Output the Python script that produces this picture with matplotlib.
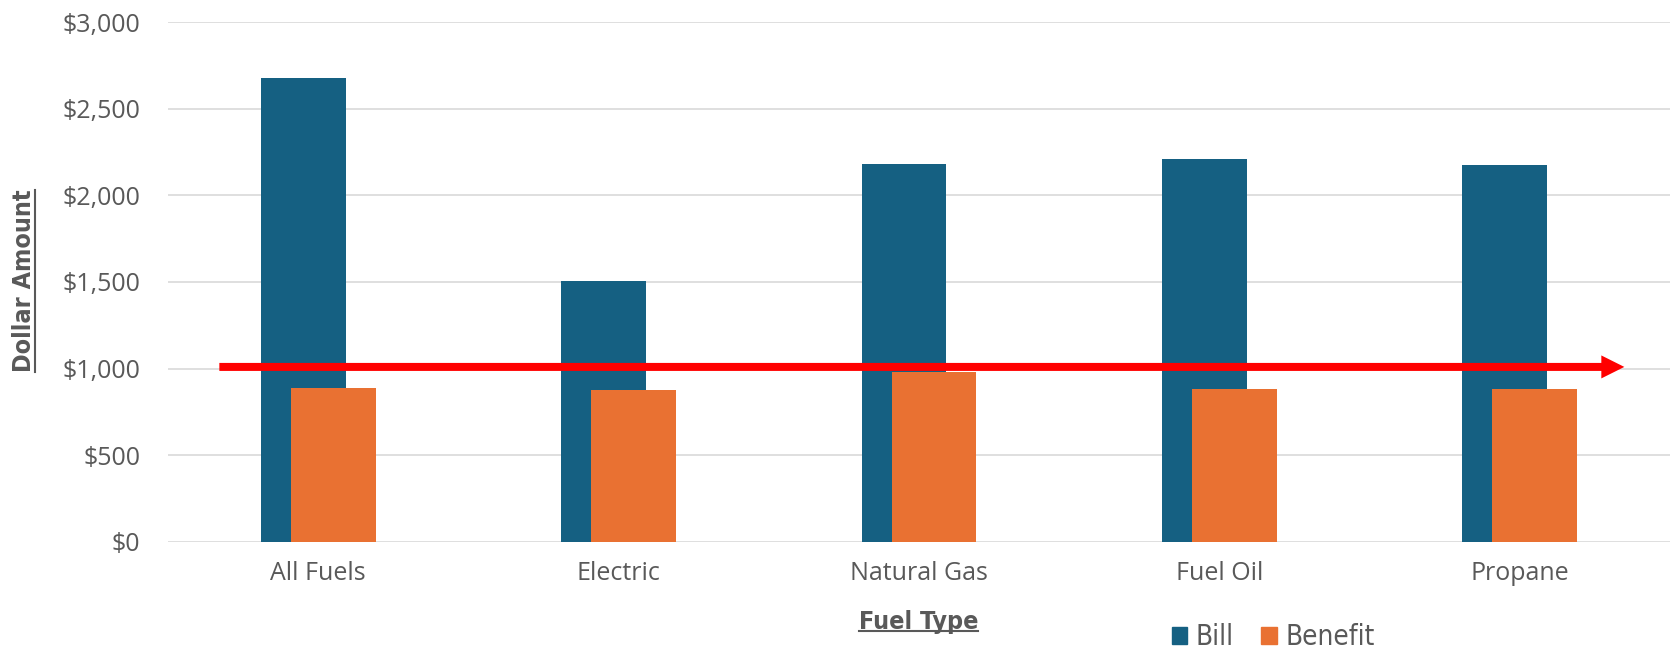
import numpy as np
import matplotlib
matplotlib.use("Agg")
import matplotlib.pyplot as plt
from matplotlib.patches import Patch, FancyArrow
from matplotlib.lines import Line2D
from matplotlib.ticker import FuncFormatter
from matplotlib import font_manager

# datos
categorias = ["All Fuels", "Electric", "Natural Gas", "Fuel Oil", "Propane"]
bill = [2675, 1507, 2179, 2210, 2175]
benefit = [888, 877, 979, 884, 884]
y_ticks = [0, 500, 1000, 1500, 2000, 2500, 3000]
linea_ref = 1010  # flecha roja

COLOR_BILL = "#156082"
COLOR_BENEFIT = "#E97132"
GRIS_TEXTO = "#595959"
GRIS_GRID = "#d9d9d9"

# fuente estrecha para titulos y leyenda (si existe)
nombres = {f.name for f in font_manager.fontManager.ttflist}
fuente_titulo = [n for n in ["Liberation Sans Narrow", "DejaVu Sans"] if n in nombres]

fig = plt.figure(figsize=(16.73, 6.49), dpi=100)
ax = fig.add_axes([0.1004, 0.1649, 0.8978, 0.8012])

x = np.arange(len(categorias))
ancho = 0.282
ax.bar(x - 0.05, bill, ancho, color=COLOR_BILL, zorder=2, label="Bill")
ax.bar(x + 0.05, benefit, ancho, color=COLOR_BENEFIT, zorder=3, label="Benefit")

# flecha horizontal (ancho en unidades de datos: eje y ~0.1733 px/unidad, eje x ~300 px/unidad)
px_y = 1 / 0.17333
px_x = 1 / 300.4
x_ini, x_fin = -0.329, 4.348
flecha = FancyArrow(x_ini, linea_ref, x_fin - x_ini, 0,
                    width=8 * px_y, head_width=23 * px_y, head_length=23 * px_x,
                    length_includes_head=True, color="#ff0000", lw=0, zorder=4)
ax.add_patch(flecha)

ax.set_xlim(-0.5, 4.5)
ax.set_ylim(0, 3000)
ax.set_yticks(y_ticks)
ax.yaxis.set_major_formatter(FuncFormatter(lambda v, p: f"${v:,.0f}"))
ax.set_xticks(x)
ax.set_xticklabels(categorias)

for s in ax.spines.values():
    s.set_visible(False)
ax.grid(axis="y", color=GRIS_GRID, lw=1.2, zorder=0)
ax.set_axisbelow(True)
ax.tick_params(axis="both", length=0, colors=GRIS_TEXTO, labelsize=18)
ax.tick_params(axis="y", pad=20)
ax.tick_params(axis="x", pad=14)
for t in ax.get_xticklabels() + ax.get_yticklabels():
    t.set_fontfamily(["Open Sans", "DejaVu Sans"])

t_y = fig.text(0.0145, 0.567, "Dollar Amount", rotation=90, ha="center", va="center",
               fontsize=18, fontweight="bold", fontstretch="condensed",
               color=GRIS_TEXTO, family=fuente_titulo)
t_x = fig.text(0.549, 0.0416, "Fuel Type", ha="center", va="center",
               fontsize=18, fontweight="bold", fontstretch="condensed",
               color=GRIS_TEXTO, family=fuente_titulo)

handles = [Patch(color=COLOR_BILL), Patch(color=COLOR_BENEFIT)]
leg = fig.legend(handles, ["Bill", "Benefit"], loc="center", bbox_to_anchor=(0.761, 0.0185),
                 ncol=2, frameon=False, handlelength=0.55, handleheight=0.55,
                 handletextpad=0.3, columnspacing=1.0,
                 prop={"family": fuente_titulo, "size": 20, "stretch": "condensed"})
for t in leg.get_texts():
    t.set_color(GRIS_TEXTO)

# subrayado de los titulos de ejes
fig.canvas.draw()
r = fig.canvas.get_renderer()
inv = fig.transFigure.inverted()
bb = inv.transform_bbox(t_x.get_window_extent(r))
fig.add_artist(Line2D([bb.x0, bb.x1], [bb.y0 + 0.004, bb.y0 + 0.004],
                      transform=fig.transFigure, color=GRIS_TEXTO, lw=1.5))
bb = inv.transform_bbox(t_y.get_window_extent(r))
fig.add_artist(Line2D([bb.x1 - 0.001, bb.x1 - 0.001], [bb.y0, bb.y1],
                      transform=fig.transFigure, color=GRIS_TEXTO, lw=1.5))

plt.savefig("out.png", dpi=100)
